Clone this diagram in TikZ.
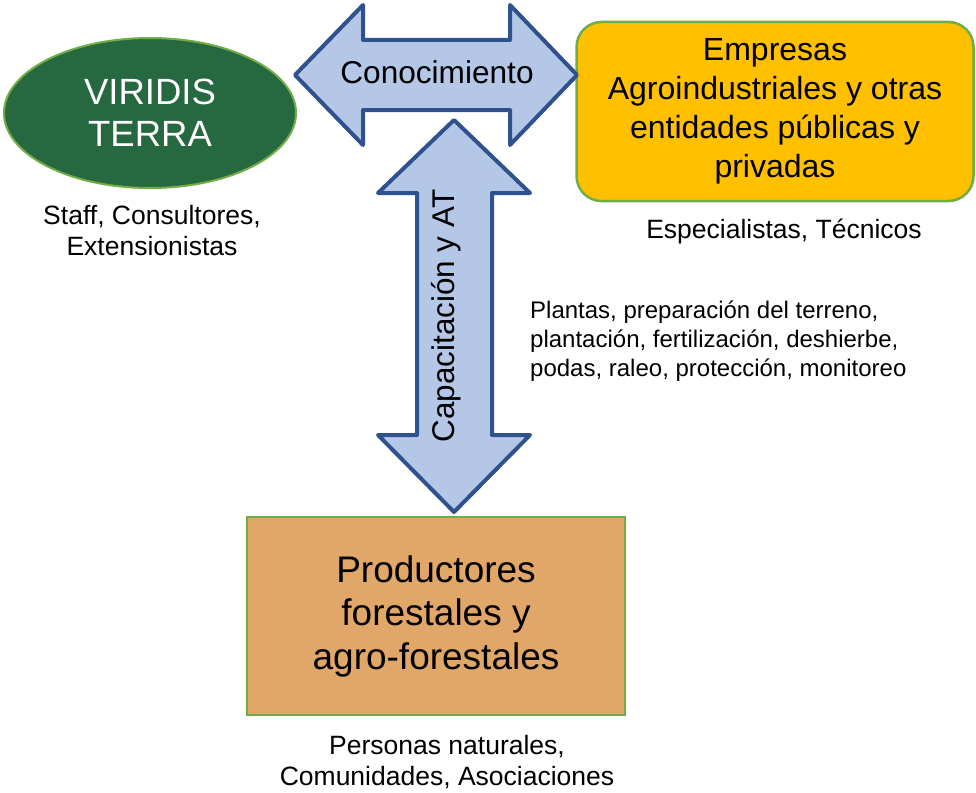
\documentclass[tikz,border=0pt]{standalone}
\usepackage{fontspec}
\setmainfont{Liberation Sans}
\usepackage{tikz}
\usepackage{xcolor}
\usetikzlibrary{shapes.geometric}
\definecolor{viridis}{RGB}{38,105,64}
\definecolor{edgegreen}{RGB}{112,173,71}
\definecolor{empresa}{RGB}{255,192,0}
\definecolor{productor}{RGB}{224,167,104}
\definecolor{arrowfill}{RGB}{180,199,231}
\definecolor{arrowedge}{RGB}{47,82,143}
\newcommand{\fs}[2]{\fontsize{#1}{#2}\selectfont}
\tikzset{
    actor/.style={draw=edgegreen, line width=2pt, inner sep=0pt, align=center},
    blockarrow/.style={draw=arrowedge, fill=arrowfill, line width=4pt, line join=round},
    caption/.style={inner sep=0pt, align=center, font=\fs{26.5}{31}}
}

\begin{document}
\begin{tikzpicture}[x=1pt,y=-1pt]
\useasboundingbox (0,0) rectangle (976,792);
\node[actor, ellipse, fill=viridis, text=white, minimum width=292pt, minimum height=150pt, font=\fs{36.5}{42}] (viridis) at (150,113) {VIRIDIS\\TERRA};
\node[actor, rounded corners=25pt, fill=empresa, line width=2.5pt, minimum width=397pt, minimum height=179pt, font=\fs{32}{39}] (empresas) at (775,111.5) {Empresas\\Agroindustriales y otras\\entidades públicas y\\privadas};
\node[actor, fill=productor, minimum width=378pt, minimum height=198pt, font=\fs{37}{43.5}] (productores) at (436,616) {Productores\\forestales y\\agro-forestales};
\draw[blockarrow] (295,75) -- (363,5) -- (363,40) -- (510,40) -- (510,5) -- (577,75)
    -- (510,145) -- (510,110) -- (363,110) -- (363,145) -- cycle;
\draw[blockarrow] (454,120) -- (530,193) -- (492,193) -- (492,435) -- (530,435) -- (454,512)
    -- (378,435) -- (417,435) -- (417,193) -- (378,193) -- cycle;
\node[inner sep=0pt, font=\fs{31.6}{36}] (conocimiento) at (437,72) {Conocimiento};
\node[inner sep=0pt, rotate=90, font=\fs{31.4}{36}] (capacitacion) at (446,316) {Capacitación y AT};
\node[caption] (staff) at (152,231) {Staff, Consultores,\\Extensionistas};
\node[caption] (especialistas) at (784,231) {Especialistas, Técnicos};
\node[caption, anchor=west, align=left, font=\fs{24}{29}] (tareas) at (530,341) {Plantas, preparación del terreno,\\plantación, fertilización, deshierbe,\\podas, raleo, protección, monitoreo};
\node[caption] (personas) at (447,762) {Personas naturales,\\Comunidades, Asociaciones};
\end{tikzpicture}
\end{document}
